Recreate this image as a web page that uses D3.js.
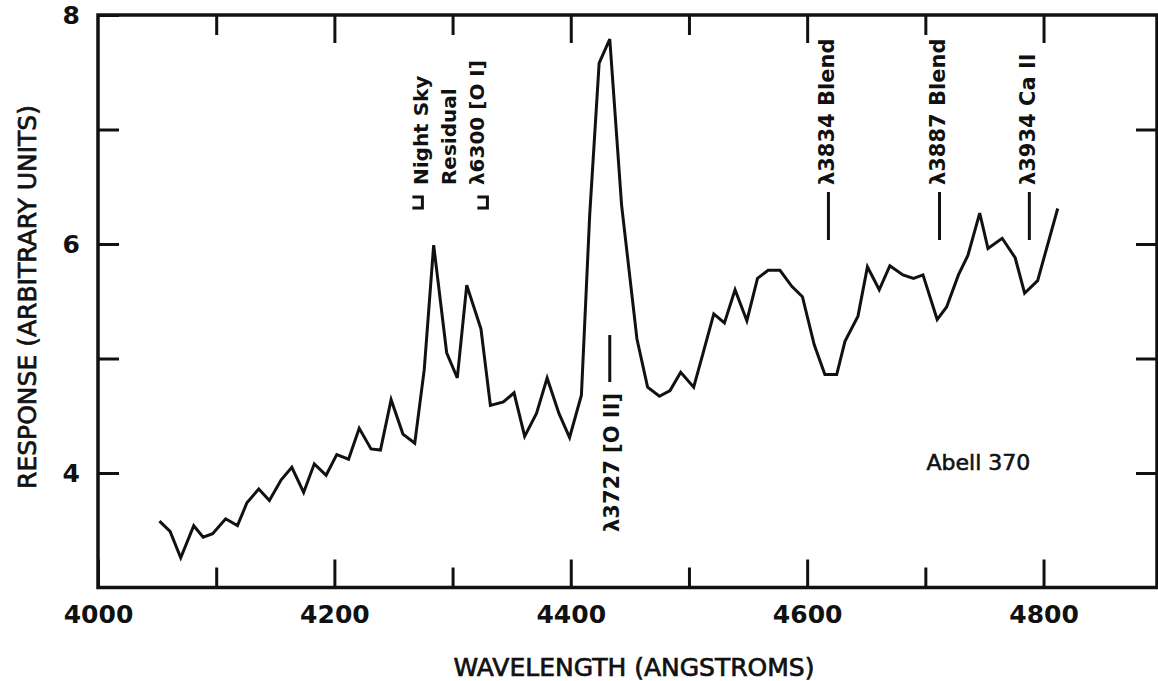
<!DOCTYPE html>
<html>
<head>
<meta charset="utf-8">
<script src="https://cdn.jsdelivr.net/npm/d3@7"></script>
<style>
  body { margin: 0; background: #fff; }
  svg text { fill: #111; }
</style>
</head>
<body>
<svg width="1158" height="681"></svg>
<script>
// spectrum of Abell 370
var wavelength = [4052, 4061, 4070, 4081, 4089, 4097, 4108, 4118, 4126, 4136,
                  4145, 4155, 4164, 4174, 4183, 4193, 4202, 4212, 4221, 4231,
                  4239, 4248, 4258, 4268, 4276, 4284, 4295, 4304, 4312, 4324,
                  4332, 4343, 4352, 4361, 4371, 4380, 4390, 4399, 4409, 4416,
                  4424, 4433, 4443, 4456, 4465, 4475, 4484, 4493, 4504, 4512,
                  4521, 4530, 4539, 4549, 4558, 4567, 4577, 4587, 4596, 4606,
                  4615, 4625, 4632, 4643, 4651, 4661, 4670, 4681, 4690, 4698,
                  4710, 4718, 4728, 4736, 4746, 4753, 4765, 4776, 4784, 4795, 4812];
var response = [3.58, 3.49, 3.26, 3.54, 3.44, 3.47, 3.60, 3.54, 3.74, 3.86,
                3.76, 3.94, 4.05, 3.83, 4.08, 3.98, 4.16, 4.12, 4.39, 4.21,
                4.20, 4.64, 4.34, 4.26, 4.90, 5.99, 5.05, 4.83, 5.64, 5.26,
                4.59, 4.62, 4.70, 4.32, 4.52, 4.83, 4.52, 4.31, 4.68, 6.25,
                7.58, 7.79, 6.34, 5.17, 4.75, 4.67, 4.72, 4.88, 4.75, 5.05,
                5.39, 5.31, 5.60, 5.33, 5.70, 5.77, 5.77, 5.63, 5.54, 5.12,
                4.86, 4.86, 5.15, 5.37, 5.80, 5.60, 5.81, 5.73, 5.70, 5.73,
                5.34, 5.45, 5.73, 5.90, 6.27, 5.96, 6.05, 5.88, 5.57, 5.68, 6.31];

var xMajor = [4000, 4200, 4400, 4600, 4800];
var xMinor = [4100, 4300, 4500, 4700];
var yMajor = [4, 6, 8];
var yMinor = [5, 7];
var yRight = [4, 5, 6, 7];

// line identifications
var lineNames = ["λ3834 Blend", "λ3887 Blend", "λ3934 Ca II"];
var lineWaves = [4618, 4712, 4788];
var nightSky = ["Night Sky", "Residual", "λ6300 [O I]"];
var nightSkyWave = 4273;
var nightSkyRange = [4266, 4321];
var oiiName = "λ3727 [O II]";
var oiiWave = 4433;

function showspectrum() {
    var svg = d3.select("svg");
    var x = d3.scaleLinear().domain([4000, 4896]).range([98, 1157]);
    var y = d3.scaleLinear().domain([3, 8]).range([587.5, 15]);
    var ink = "#111";
    var font = "'DejaVu Sans', sans-serif";

    function noDomain(g) {
        g.select(".domain").remove();
        g.selectAll(".tick line").attr("stroke", ink).attr("stroke-width", 3);
        g.selectAll(".tick text").attr("font-family", font).attr("font-weight", "bold")
            .attr("font-size", 25).attr("fill", ink);
    }

    // bottom
    svg.append("g").attr("transform", "translate(0," + y(3) + ")")
        .call(d3.axisBottom(x).tickValues(xMajor).tickSize(-28).tickPadding(18).tickFormat(d3.format("d")))
        .call(noDomain);
    svg.append("g").attr("transform", "translate(0," + y(3) + ")")
        .call(d3.axisBottom(x).tickValues(xMinor).tickSize(-20).tickFormat(""))
        .call(noDomain);
    // top
    svg.append("g").attr("transform", "translate(0," + y(8) + ")")
        .call(d3.axisTop(x).tickValues(xMajor.slice(1)).tickSize(-28).tickFormat(""))
        .call(noDomain);
    svg.append("g").attr("transform", "translate(0," + y(8) + ")")
        .call(d3.axisTop(x).tickValues(xMinor).tickSize(-20).tickFormat(""))
        .call(noDomain);
    // left
    svg.append("g").attr("transform", "translate(" + x(4000) + ",0)")
        .call(d3.axisLeft(y).tickValues(yMajor).tickSize(-21).tickPadding(18).tickFormat(d3.format("d")))
        .call(noDomain);
    svg.append("g").attr("transform", "translate(" + x(4000) + ",0)")
        .call(d3.axisLeft(y).tickValues(yMinor).tickSize(-21).tickFormat(""))
        .call(noDomain);
    // right
    svg.append("g").attr("transform", "translate(" + x(4896) + ",0)")
        .call(d3.axisRight(y).tickValues(yRight).tickSize(-21).tickFormat(""))
        .call(noDomain);

    // frame
    svg.append("rect")
        .attr("x", x(4000)).attr("y", y(8))
        .attr("width", x(4896) - x(4000)).attr("height", y(3) - y(8))
        .attr("fill", "none").attr("stroke", ink).attr("stroke-width", 3.5);

    // spectrum
    var pts = d3.range(wavelength.length).map(function (i) { return [wavelength[i], response[i]]; });
    svg.append("path")
        .datum(pts)
        .attr("fill", "none").attr("stroke", ink).attr("stroke-width", 3)
        .attr("stroke-linejoin", "miter")
        .attr("d", d3.line().x(function (d) { return x(d[0]); }).y(function (d) { return y(d[1]); }));

    // axis titles
    svg.append("text")
        .attr("x", 634).attr("y", 676)
        .attr("text-anchor", "middle")
        .attr("font-family", font).attr("font-size", 25)
        .attr("stroke", ink).attr("stroke-width", 0.7)
        .text("WAVELENGTH (ANGSTROMS)");
    svg.append("text")
        .attr("transform", "translate(36,297) rotate(-90)")
        .attr("text-anchor", "middle")
        .attr("font-family", font).attr("font-size", 25)
        .attr("stroke", ink).attr("stroke-width", 0.7)
        .text("RESPONSE (ARBITRARY UNITS)");

    var note = svg.append("g")
        .attr("font-family", font).attr("font-weight", "bold").attr("font-size", 21);

    // identified lines: label above, tick below
    lineNames.forEach(function (name, i) {
        var px = x(lineWaves[i]);
        note.append("text")
            .attr("transform", "translate(" + (px - 2) + "," + y(6.515) + ") rotate(-90)")
            .attr("dy", "0.35em")
            .text(name);
        note.append("line")
            .attr("x1", px).attr("x2", px)
            .attr("y1", y(6.454)).attr("y2", y(6.035))
            .attr("stroke", ink).attr("stroke-width", 3);
    });

    // night sky residual block with its brackets
    nightSky.forEach(function (name, i) {
        note.append("text")
            .attr("transform", "translate(" + (x(nightSkyWave) + i * 28) + "," + y(6.515) + ") rotate(-90)")
            .attr("dy", "0.35em")
            .attr("font-size", 20)
            .text(name);
    });
    var by = y(6.41), bh = 11, bw = 10;
    nightSkyRange.forEach(function (w) {
        var px = x(w);
        note.append("path")
            .attr("d", "M" + px + "," + by + "h" + bw + "v" + bh + "h" + (-bw))
            .attr("fill", "none").attr("stroke", ink).attr("stroke-width", 3);
    });

    // [O II] line: tick above, label below
    note.append("line")
        .attr("x1", x(oiiWave)).attr("x2", x(oiiWave))
        .attr("y1", y(5.205)).attr("y2", y(4.795))
        .attr("stroke", ink).attr("stroke-width", 3);
    note.append("text")
        .attr("transform", "translate(" + (x(oiiWave) + 2) + "," + y(3.485) + ") rotate(-90)")
        .attr("dy", "0.35em")
        .text(oiiName);

    svg.append("text")
        .attr("x", x(4701)).attr("y", y(4.03))
        .attr("font-family", font).attr("font-size", 22)
        .attr("stroke", ink).attr("stroke-width", 0.6)
        .text("Abell 370");
}
showspectrum();
</script>
</body>
</html>
